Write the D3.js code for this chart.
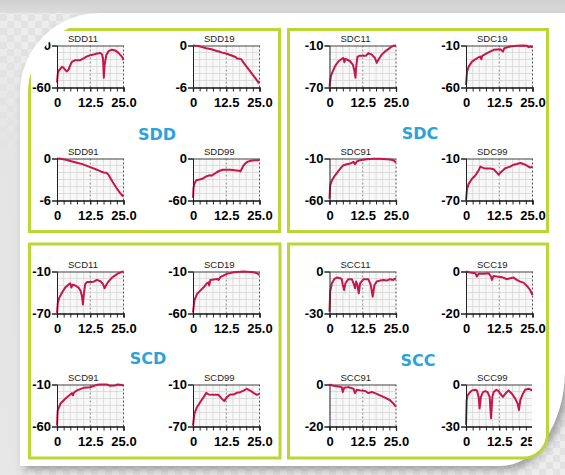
<!DOCTYPE html>
<html><head><meta charset="utf-8">
<script src="https://cdn.jsdelivr.net/npm/d3@7"></script>
<style>body{margin:0;background:#fff}svg{display:block}</style>
</head><body>
<svg id="c" width="565" height="475"></svg>
<script>
// ---------- DATA ----------
const groupNames = ["SDD", "SDC", "SCD", "SCC"];
const xTickValues = [0, 12.5, 25];
const xTickLabels = ["0", "12.5", "25.0"];
const xMinorTicks = [0, 2.5, 5, 7.5, 10, 12.5, 15, 17.5, 20, 22.5, 25];

const SDD11 = [[0,-53],[0.3,-40],[0.6,-36],[1.25,-33.5],[1.9,-30.5],[2.5,-32],[3.1,-35],[3.75,-37],[4.4,-34],[5,-28],[5.6,-23.5],[6.9,-21],[8.75,-21],[10,-18.5],[11.25,-15.5],[12.5,-14],[13.75,-13],[15,-11.5],[16.25,-10.7],[16.9,-12.5],[17.3,-19],[17.6,-46],[17.9,-28],[18.5,-14],[19.4,-8],[20.6,-6],[21.9,-7],[23.1,-10.5],[24.4,-16],[25,-21]];
const SDD19 = [[0,0],[1,-0.02],[2.5,-0.12],[4,-0.28],[5,-0.38],[6.5,-0.5],[7.5,-0.6],[9,-0.78],[10,-0.9],[11,-1.02],[12.5,-1.15],[14,-1.35],[15,-1.5],[16,-1.65],[16.6,-1.85],[17.6,-1.9],[18.2,-2.0],[19,-2.45],[20,-2.95],[21,-3.45],[22,-3.95],[23,-4.45],[24,-4.95],[24.6,-5.3],[25,-5.1]];
const SDD91 = [[0,0],[1.5,-0.05],[3.75,-0.22],[5,-0.35],[7.5,-0.6],[9.5,-0.8],[11.25,-1.05],[13,-1.3],[15,-1.6],[16.5,-1.85],[17.5,-2.0],[18.5,-2.05],[19.3,-2.3],[20,-2.75],[21,-3.4],[22,-4.0],[23,-4.55],[23.75,-4.95],[24.6,-5.35],[25,-5.15]];
const SDD99 = [[0,-56],[0.2,-42],[0.5,-36],[1.25,-31],[2.5,-30],[3.8,-28.5],[5,-25.5],[6.3,-24],[7,-24.5],[7.6,-23],[8.8,-20],[10,-17.5],[11.3,-16],[12.5,-16],[13.8,-16],[15,-16.5],[16.3,-17],[17.3,-17.5],[17.8,-18.5],[18.3,-15],[19,-10],[19.8,-6.5],[20.6,-4.5],[21.8,-3.2],[23.1,-2.6],[25,-2.4]];

const SDC11 = [[0,-68.6],[0.5,-53.6],[1.25,-46.6],[2.1,-39.5],[3.4,-32.5],[4.6,-29.2],[5.25,-27.8],[5.6,-33.9],[5.9,-29.2],[6.5,-30],[7.75,-32.5],[8.75,-37.2],[9.25,-44.2],[9.75,-55.9],[10,-41.9],[10.5,-26.4],[11.25,-24.5],[12.75,-24.5],[13.75,-24.5],[14.6,-20.8],[15.9,-23.1],[17.1,-27.8],[17.75,-34.8],[18.4,-30.2],[19.6,-23.1],[20.9,-18.4],[22.1,-15.2],[23.4,-11.4],[24,-10.5],[25,-10]];
const SDC19 = [[0,-57.2],[0.4,-41.2],[1,-35.2],[2.25,-29.2],[3.5,-26.4],[4.75,-24],[5.4,-23.2],[5.75,-26.4],[6.1,-22.4],[7.9,-19.2],[10.4,-15.2],[12.9,-14.4],[13.9,-17.2],[14.4,-13.2],[16.6,-11.2],[19.1,-10.4],[21.6,-10],[22.9,-10.4],[23.5,-12],[24.1,-11.2],[25,-12]];
const SDC91 = [[0,-58],[0.25,-42],[0.9,-36],[2.1,-30],[3.4,-24.8],[4.6,-20],[5.25,-18],[6.5,-16.8],[7.75,-16],[9,-14],[9.6,-16.8],[10.25,-13.6],[11.5,-12],[14,-10.8],[16.5,-10.4],[19,-10.4],[21.5,-10.8],[22.75,-11.2],[24,-12],[25,-14.8]];
const SDC99 = [[0,-69],[0.4,-53.4],[1,-46.2],[2.25,-38.9],[3.5,-34.2],[4.75,-26.9],[5.4,-21.5],[6,-22.6],[7.25,-24.4],[9.1,-24.4],[10.4,-25.4],[11.6,-30.2],[12.25,-33],[13.5,-28.2],[14.75,-23.9],[16.6,-21.6],[17.9,-18.8],[19.1,-17.8],[20.4,-16.4],[21.6,-17.8],[22.9,-20.2],[24.1,-23],[25,-21.6]];

const SCD11 = [[0,-69],[0.3,-55],[0.8,-48],[1.9,-40],[3.1,-33],[4.4,-28.5],[5,-27],[5.4,-33],[5.8,-29],[6.9,-30],[8.1,-33],[8.9,-38],[9.4,-46],[9.75,-57],[10.1,-42],[10.6,-28],[11.3,-25],[12.5,-25],[13.8,-24.5],[15,-22],[16.3,-24],[17.3,-28],[17.9,-34],[18.4,-30],[19.4,-24],[20.6,-19],[21.9,-15.5],[23.1,-12.5],[24.4,-10.5],[25,-10]];
const SCD19 = [[0,-58.8],[0.5,-44.8],[1.5,-36.8],[2.75,-32.8],[4,-28.8],[5.25,-24],[5.9,-22.8],[6.1,-26.8],[6.5,-20],[9,-18.8],[9.6,-20],[10.25,-16.8],[12.75,-12.8],[15.25,-10.8],[19,-10],[22.75,-10.8],[24,-12],[25,-14]];
const SCD91 = [[0,-58.8],[0.25,-41],[1.25,-33],[3.1,-27],[5,-22],[5.6,-20.3],[6,-23],[6.4,-19.5],[7.5,-17],[10,-14],[12.5,-13.2],[15,-10.4],[16.25,-10],[18.75,-10],[20,-11.6],[21.9,-11.2],[22.5,-10],[23.75,-10.4],[25,-11.2]];
const SCD99 = [[0,-68.6],[0.5,-52],[1.5,-42.4],[2.75,-35],[4,-28],[5,-22],[5.9,-24.3],[7.75,-24.8],[9.6,-24.8],[10.9,-30.5],[11.75,-33.8],[12.75,-28],[14,-24.3],[15.25,-24.3],[16.5,-21.9],[17.75,-21],[19,-18.6],[20.25,-16.2],[21.5,-18.6],[22.75,-22],[24,-24.8],[25,-23.3]];

const SCC11 = [[0,-28.8],[0.25,-14.4],[0.9,-8.4],[1.75,-5.5],[2.75,-4.3],[4,-4.8],[4.6,-5.5],[5,-9.6],[5.5,-13.2],[6,-8.4],[7.1,-5.5],[8.4,-5.5],[9.25,-9.6],[9.6,-12],[10,-7.2],[10.5,-9.6],[11,-15.6],[11.5,-8.4],[12.75,-5.5],[14.6,-5.5],[15.5,-9.6],[16.25,-18],[16.9,-9.6],[17.75,-7.2],[19,-6.5],[20.25,-6],[21.5,-6.5],[22.75,-5.5],[24,-6],[25,-4.8]];
const SCC19 = [[0,0],[1.6,-0.5],[3.5,-0.8],[4.1,-2.4],[4.75,-1.1],[6.6,-1.1],[8.5,-0.8],[9.4,-2.4],[9.75,-4],[10.4,-2.1],[11.6,-2.4],[13.5,-2.7],[15.4,-3.7],[16.6,-3.2],[17.9,-2.9],[19.1,-4],[20.4,-4.8],[21.6,-5.3],[22.9,-6.9],[24.1,-8.8],[25,-11.2]];
const SCC91 = [[0,0],[1.5,-0.6],[3.4,-1],[4.6,-1.25],[5,-3.6],[5.5,-1.6],[7.1,-1.25],[9,-2],[9.6,-4.1],[10.25,-2.5],[11.5,-2.8],[13.4,-3.1],[14.6,-4.1],[15.9,-3.6],[17.1,-4.1],[19,-5.2],[20.9,-6.25],[22.75,-7.5],[24,-9],[25,-10.6]];
const SCC99 = [[0,-28.8],[0.25,-11.25],[0.6,-7.7],[1.25,-6.1],[2.25,-4.2],[3.5,-3.75],[4.1,-4.2],[4.75,-8.9],[5.1,-17.1],[5.6,-8.9],[6.4,-5.4],[7.25,-4.7],[8.1,-5.4],[8.9,-8.9],[9.4,-24.1],[9.9,-8.9],[10.4,-5.4],[11.4,-3.75],[12.25,-4.7],[12.9,-6.6],[13.9,-8.9],[14.75,-6.6],[16,-4.2],[17.25,-6.6],[18.5,-10.1],[19.4,-13.6],[19.9,-18.3],[20.4,-11.25],[21.4,-6.6],[22.25,-3.75],[23.5,-3.05],[25,-4.2]];

const chartNames = ["SDD11","SDD19","SDD91","SDD99","SDC11","SDC19","SDC91","SDC99","SCD11","SCD19","SCD91","SCD99","SCC11","SCC19","SCC91","SCC99"];
const chartSeries = [SDD11,SDD19,SDD91,SDD99,SDC11,SDC19,SDC91,SDC99,SCD11,SCD19,SCD91,SCD99,SCC11,SCC19,SCC91,SCC99];
const yDomains = [[-60,0],[-6,0],[-6,0],[-60,0],[-70,-10],[-60,-10],[-60,-10],[-70,-10],[-70,-10],[-60,-10],[-60,-10],[-70,-10],[-30,0],[-20,0],[-20,0],[-30,0]];

// ---------- DRAW ----------
const W = 565, H = 475;
const svg = d3.select("#c");
const defs = svg.append("defs");

const pat = defs.append("pattern").attr("id","chk").attr("width",14).attr("height",14).attr("patternUnits","userSpaceOnUse");
pat.append("rect").attr("width",14).attr("height",14).attr("fill","#ededed");
pat.append("rect").attr("width",7).attr("height",7).attr("fill","#e2e2e2");
pat.append("rect").attr("x",7).attr("y",7).attr("width",7).attr("height",7).attr("fill","#e2e2e2");

const sh = defs.append("filter").attr("id","shadow").attr("x","-10%").attr("y","-10%").attr("width","125%").attr("height","125%");
sh.append("feDropShadow").attr("dx",4).attr("dy",4).attr("stdDeviation",4).attr("flood-color","#7a7a7a").attr("flood-opacity",0.7);

const tg = defs.append("linearGradient").attr("id","topband").attr("x1",0).attr("y1",0).attr("x2",0).attr("y2",1);
tg.append("stop").attr("offset","0%").attr("stop-color","#cfcfcf");
tg.append("stop").attr("offset","100%").attr("stop-color","#dcdcdc");

const lg = defs.append("linearGradient").attr("id","leftband").attr("x1",0).attr("y1",0).attr("x2",0).attr("y2",1);
lg.append("stop").attr("offset","0%").attr("stop-color","#e4e4e4").attr("stop-opacity",0);
lg.append("stop").attr("offset","35%").attr("stop-color","#e4e4e4").attr("stop-opacity",1);
lg.append("stop").attr("offset","100%").attr("stop-color","#e6e6e6").attr("stop-opacity",1);

svg.append("rect").attr("width",W).attr("height",H).attr("fill","url(#chk)");
svg.append("rect").attr("x",0).attr("y",0).attr("width",22).attr("height",H).attr("fill","url(#leftband)");
svg.append("rect").attr("width",W).attr("height",13).attr("fill","url(#topband)");

const whiteD = "M20,93 A80,80 0 0 1 100,13 L565,13 L565,372 A65,96 0 0 1 500,466 L20,466 Z";
svg.append("path").attr("d",whiteD).attr("fill","#fff").attr("filter","url(#shadow)");

defs.append("clipPath").attr("id","frameClip").append("path")
  .attr("d","M28,93 A72,72 0 0 1 100,21 L565,21 L565,475 L0,475 L0,93 Z");

const content = svg.append("g").attr("clip-path","url(#frameClip)");

const green = "#bcd635";
const panels = [
  {x:29.5,y:29.5,w:250,h:202},
  {x:288.5,y:29.5,w:259,h:202},
  {x:29.5,y:244,w:250.5,h:214},
  {x:288.5,y:244,w:259,h:214}
];
panels.forEach((p,i)=>{
  if(i===3){
    const r=24;
    content.append("path").attr("fill","#fff").attr("stroke",green).attr("stroke-width",3)
      .attr("d",`M${p.x},${p.y} H${p.x+p.w} V${p.y+p.h-r} A${r},${r} 0 0 1 ${p.x+p.w-r},${p.y+p.h} H${p.x} Z`);
  } else {
    content.append("rect").attr("x",p.x).attr("y",p.y).attr("width",p.w).attr("height",p.h)
      .attr("fill","#fff").attr("stroke",green).attr("stroke-width",3);
  }
});

const labelPos = [[157,140],[420,139],[148,364],[418,366]];
groupNames.forEach((g,i)=>{
  content.append("text").attr("x",labelPos[i][0]).attr("y",labelPos[i][1])
    .attr("text-anchor","middle").attr("font-family","DejaVu Sans").attr("font-weight","bold")
    .attr("font-size",16).attr("fill","#2ba3da").text(g);
});

const colX = [57, 193, 329.5, 466];
const rowY = [45.5, 158.5, 271.5, 384.5];
const pw = 66.5, ph = 42;

chartNames.forEach((name,i)=>{
  const g = Math.floor(i/4), k = i%4;
  const col = (g%2)*2 + (k%2);
  const row = Math.floor(g/2)*2 + Math.floor(k/2);
  const x0 = colX[col], y0 = rowY[row];
  let cg = content.append("g").attr("transform",`translate(${x0},${y0})`);
  if(name==="SCC99"){
    defs.append("clipPath").attr("id","clipSCC99").append("rect").attr("x",-40).attr("y",-20).attr("width",40+pw-0.5).attr("height",ph+45);
    cg = cg.append("g").attr("clip-path","url(#clipSCC99)");
  }
  const x = d3.scaleLinear().domain([0,25]).range([0,pw]);
  const y = d3.scaleLinear().domain(yDomains[i]).range([ph,0]);

  cg.append("rect").attr("width",pw).attr("height",ph).attr("fill","#f8f8f8");
  cg.append("g").selectAll("line").data(d3.range(1,10)).join("line")
    .attr("x1",d=>x(d*2.5)).attr("x2",d=>x(d*2.5)).attr("y1",0).attr("y2",ph)
    .attr("stroke",d=>d===5?"#777":"#d6d6d6").attr("stroke-width",d=>d===5?0.9:0.8)
    .attr("stroke-dasharray",d=>d===5?"2,2":null);
  cg.append("g").selectAll("line").data(d3.range(1,6)).join("line")
    .attr("y1",d=>ph*d/6).attr("y2",d=>ph*d/6).attr("x1",0).attr("x2",pw)
    .attr("stroke","#d6d6d6").attr("stroke-width",0.8);
  cg.append("line").attr("x1",0).attr("x2",pw).attr("y1",0.5).attr("y2",0.5).attr("stroke","#444").attr("stroke-width",1);
  cg.append("line").attr("x1",pw).attr("x2",pw).attr("y1",0).attr("y2",ph).attr("stroke","#555").attr("stroke-width",1).attr("stroke-dasharray","2,2");

  const line = d3.line().x(d=>x(d[0])).y(d=>y(d[1]));
  cg.append("path").datum(chartSeries[i]).attr("d",line)
    .attr("fill","none").attr("stroke","#c5174a").attr("stroke-width",2).attr("stroke-linejoin","round");

  const xa = cg.append("g").attr("transform",`translate(0,${ph})`)
    .call(d3.axisBottom(x).tickValues(xMinorTicks).tickSize(4).tickFormat(""));
  xa.select(".domain").attr("stroke","#111").attr("stroke-width",1.3);
  xa.selectAll(".tick line").attr("stroke","#222");
  const xl = cg.append("g").attr("transform",`translate(0,${ph})`)
    .call(d3.axisBottom(x).tickValues(xTickValues).tickSize(4).tickPadding(6).tickFormat((d,j)=>xTickLabels[j]));
  xl.select(".domain").remove();
  xl.selectAll("text").attr("font-family","Liberation Sans, Arial, sans-serif").attr("font-weight","bold").attr("font-size",13).attr("fill","#000");
  xl.selectAll(".tick line").attr("stroke","#222");

  const ya = cg.append("g")
    .call(d3.axisLeft(y).tickValues(yDomains[i]).tickSize(5).tickPadding(1).tickFormat(d => String(d)));
  ya.select(".domain").attr("stroke","#222").attr("stroke-width",1);
  ya.selectAll(".tick line").attr("stroke","#222");
  ya.selectAll("text").attr("font-family","Liberation Sans, Arial, sans-serif").attr("font-weight","bold").attr("font-size",13).attr("fill","#000");

  cg.append("text").attr("x",11).attr("y",-4).attr("font-family","Liberation Sans, Arial, sans-serif")
    .attr("font-size",9.5).attr("fill","#222").text(name);
});
</script>
</body></html>
